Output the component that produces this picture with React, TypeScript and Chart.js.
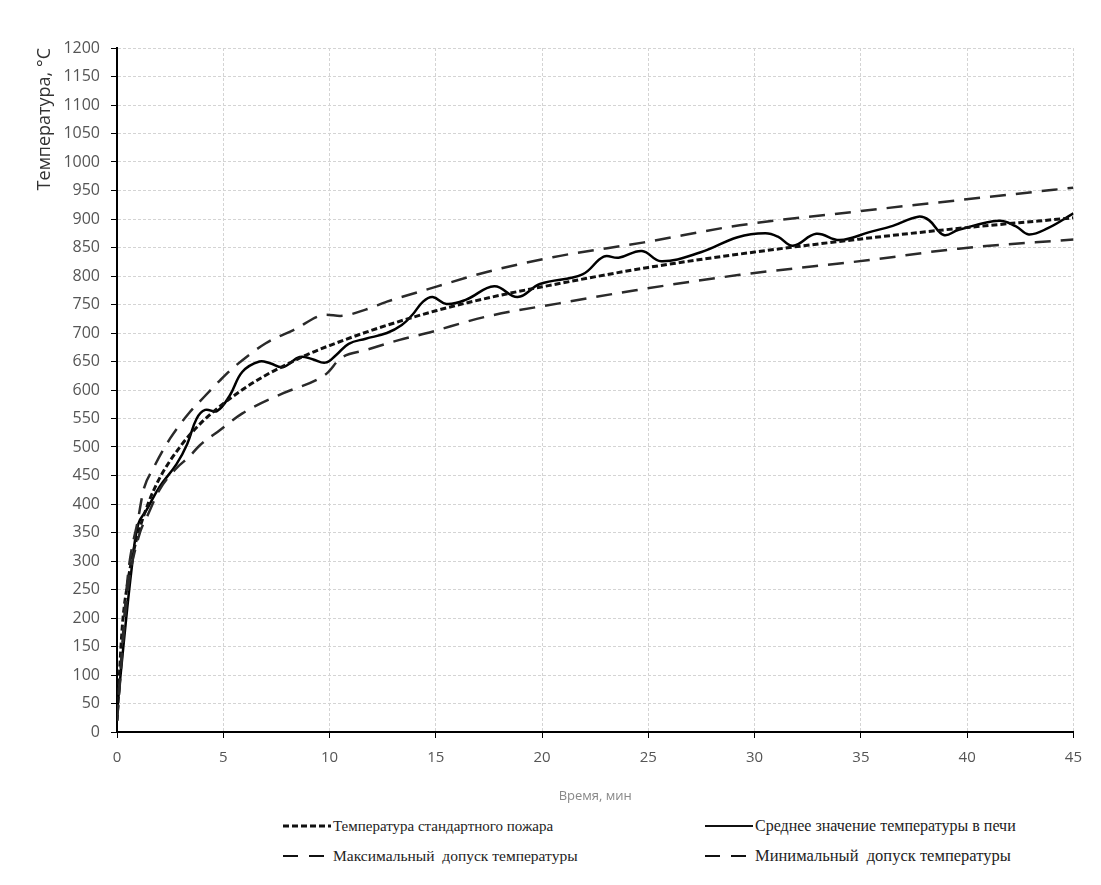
import React, { useEffect, useRef } from "react";
import Chart from "chart.js/auto";

// Стандартный температурный режим
const stdTime = [0, 0.25, 0.5, 0.75, 1, 1.5, 2, 3, 4, 5, 6, 7, 8, 9, 10, 12, 15, 18, 20, 25, 30, 35, 40, 45];
const stdTemp = [20, 185, 261, 312, 349, 404, 445, 502, 544, 576, 603, 626, 645, 663, 678, 705, 739, 766, 781, 815, 842, 865, 885, 902];

// Среднее значение температуры в печи
const avgTime = [0, 0.3, 0.7, 1.0, 1.4, 2.0, 2.8, 3.3, 3.75, 4.15, 4.7, 5.3, 5.9, 6.7, 7.2, 7.8, 8.6, 9.2, 9.8, 10.3, 10.9, 11.7, 12.7, 13.4, 13.9, 14.4, 14.85, 15.5, 16.4, 17.75, 18.85, 19.9, 21.9, 22.9, 23.6, 24.7, 25.6, 27.5, 29.2, 30.5, 31.1, 31.8, 32.9, 34.0, 35.4, 36.5, 37.7, 38.2, 38.9, 39.6, 41.5, 42.3, 42.9, 43.8, 45];
const avgTemp = [35, 150, 290, 365, 390, 430, 470, 505, 550, 565, 563, 590, 632, 650, 647, 640, 658, 654, 648, 661, 681, 690, 700, 714, 732, 755, 763, 751, 758, 782, 763, 786, 803, 834, 832, 844, 826, 842, 868, 875, 869, 853, 874, 863, 877, 888, 904, 898, 872, 881, 897, 887, 873, 884, 910];

// Максимальный допуск температуры
const maxTime = [0, 0.5, 1, 1.25, 1.7, 2.5, 3.4, 3.9, 4.85, 5.5, 7, 8.3, 9.85, 10.5, 11.7, 12.7, 14.2, 17.4, 20.5, 24.8, 29.3, 35, 39.6, 45];
const maxTemp = [20, 270, 375, 425, 462, 515, 560, 580, 617, 640, 682, 705, 732, 730, 741, 755, 772, 807, 833, 859, 889, 914, 933, 955];

// Минимальный допуск температуры
const minTime = [0, 0.5, 1, 1.5, 2, 2.8, 3.4, 3.9, 4.85, 5.9, 7.8, 9.4, 9.9, 10.5, 11.7, 13.3, 14.5, 17.4, 20.8, 24.4, 29.3, 35.4, 39.6, 45];
const minTemp = [20, 245, 340, 385, 425, 463, 483, 503, 530, 559, 594, 618, 630, 655, 670, 688, 699, 729, 752, 775, 802, 828, 848, 864];

const seriesNames = [
  "Температура стандартного пожара",
  "Среднее значение температуры в печи",
  "Максимальный  допуск температуры",
  "Минимальный  допуск температуры",
];
const xTitle = "Время, мин";
const yTitle = "Температура, °C";

const pts = (xs: number[], ys: number[]) => xs.map((x, i) => ({ x, y: ys[i] }));

export default function App() {
  const ref = useRef<HTMLCanvasElement>(null);
  useEffect(() => {
    const chart = new Chart(ref.current!, {
      type: "line",
      data: {
        datasets: [
          {
            label: seriesNames[2],
            data: pts(maxTime, maxTemp),
            borderColor: "#2a2a2a",
            borderWidth: 2.5,
            borderDash: [16, 10],
            pointRadius: 0,
            cubicInterpolationMode: "monotone",
            fill: false,
          },
          {
            label: seriesNames[3],
            data: pts(minTime, minTemp),
            borderColor: "#2a2a2a",
            borderWidth: 2.5,
            borderDash: [16, 10],
            pointRadius: 0,
            cubicInterpolationMode: "monotone",
            fill: false,
          },
          {
            label: seriesNames[0],
            data: pts(stdTime, stdTemp),
            borderColor: "#111",
            borderWidth: 3,
            borderDash: [6, 3],
            pointRadius: 0,
            cubicInterpolationMode: "monotone",
            fill: false,
          },
          {
            label: seriesNames[1],
            data: pts(avgTime, avgTemp),
            borderColor: "#000",
            borderWidth: 2.5,
            pointRadius: 0,
            tension: 0.4,
            fill: false,
          },
        ],
      },
      options: {
        animation: false,
        responsive: true,
        maintainAspectRatio: false,
        layout: { padding: { top: 40, right: 18, left: 0, bottom: 0 } },
        plugins: { legend: { display: false }, tooltip: { enabled: false } },
        scales: {
          x: {
            type: "linear",
            min: 0,
            max: 45,
            ticks: {
              stepSize: 5,
              color: "#555",
              padding: 11,
              font: { family: "'Open Sans'", size: 15 },
              callback: (v: any) => String(v),
            },
            grid: { color: "#d4d4d4", tickColor: "#000", tickLength: 6, lineWidth: 1 },
            border: { color: "#000", width: 2, dash: [3, 2] },
            title: {
              display: true,
              text: xTitle,
              color: "#888",
              font: { family: "'Open Sans'", size: 13 },
              padding: { top: 4, bottom: 4 },
            },
            afterFit: (s: any) => {
              s.height = 76;
            },
          },
          y: {
            type: "linear",
            min: 0,
            max: 1200,
            ticks: {
              stepSize: 50,
              color: "#555",
              padding: 11,
              font: { family: "'Open Sans'", size: 16 },
              callback: (v: any) => String(v),
            },
            grid: { color: "#d4d4d4", tickColor: "#000", tickLength: 6, lineWidth: 1 },
            border: { color: "#000", width: 2, dash: [3, 2] },
            title: {
              display: true,
              text: yTitle,
              align: "end",
              color: "#333",
              font: { family: "'Open Sans'", size: 18 },
              padding: { top: 26, bottom: 0 },
            },
            afterFit: (s: any) => {
              s.width = 109;
            },
          },
        },
      },
    });
    return () => chart.destroy();
  }, []);

  const legendItems = [
    { name: seriesNames[0], dash: "6 3", w: 3, left: 275, top: 808, fs: 15 },
    { name: seriesNames[1], dash: "", w: 2, left: 697, top: 808, fs: 16 },
    { name: seriesNames[2], dash: "15 11", w: 2, left: 275, top: 838, fs: 15.5 },
    { name: seriesNames[3], dash: "15 11", w: 2, left: 697, top: 838, fs: 16.5 },
  ];

  return (
    <div style={{ position: "relative", width: 1085, height: 869, background: "#fff" }}>
      <div style={{ position: "absolute", left: 0, top: 0, width: 1085, height: 800 }}>
        <canvas ref={ref} />
      </div>
      {legendItems.map((it, i) => (
        <div
          key={i}
          style={{
            position: "absolute",
            left: it.left,
            top: it.top,
            height: 20,
            display: "flex",
            alignItems: "center",
            fontFamily: "'Liberation Serif', serif",
            fontSize: it.fs,
            color: "#222",
            whiteSpace: "pre",
          }}
        >
          <svg width={48} height={6} style={{ marginRight: 2 }}>
            <line x1={0} y1={3} x2={48} y2={3} stroke="#111" strokeWidth={it.w} strokeDasharray={it.dash || undefined} />
          </svg>
          <span>{it.name}</span>
        </div>
      ))}
    </div>
  );
}
